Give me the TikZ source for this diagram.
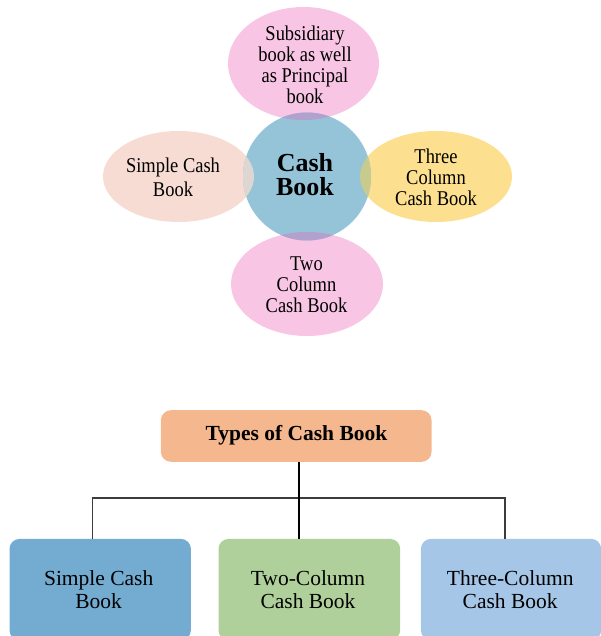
\documentclass[tikz,border=0pt]{standalone}
\usepackage{fontspec}
\setmainfont{Liberation Serif}
\newfontfamily\narrowserif[FakeStretch=0.88]{Liberation Serif}

\definecolor{petalpink}{HTML}{F8C6E4}
\definecolor{hubblue}{HTML}{95C4D8}
\definecolor{petalpeach}{HTML}{F7DCD4}
\definecolor{petalyellow}{HTML}{FDE08F}
\definecolor{mixpink}{HTML}{B2A0CD}
\definecolor{mixpeach}{HTML}{DED6D3}
\definecolor{mixyellow}{HTML}{C8CB8E}
\definecolor{headorange}{HTML}{F4B78E}
\definecolor{boxblue}{HTML}{74ACD1}
\definecolor{boxgreen}{HTML}{B0D09B}
\definecolor{boxsky}{HTML}{A6C6E7}
\definecolor{branchgray}{HTML}{3C3C3C}

\begin{document}
\begin{tikzpicture}[x=1pt,y=-1pt,
  petaltext/.style={inner sep=0pt, align=center,
    font=\narrowserif\fontsize{21}{21}\selectfont},
  hubtext/.style={inner sep=0pt, align=center,
    font=\bfseries\fontsize{26}{24}\selectfont},
  tbox/.style={rounded corners=10pt, inner sep=0pt, draw=none},
  boxtext/.style={inner sep=0pt, align=center,
    font=\fontsize{21.5}{23}\selectfont},
  trunk/.style={line width=2.4pt, black},
  branch/.style={line width=1.3pt, branchgray}
]
\useasboundingbox (0,0) rectangle (601,636);

% centres of the radial shapes
\coordinate (ptop) at (303.5,63.5);
\coordinate (pleft) at (178.5,176.5);
\coordinate (pright) at (436,176.5);
\coordinate (pbottom) at (307,284);
\coordinate (hub) at (307,176.5);

% petals
\fill[petalpink] (ptop) ellipse [x radius=75.5pt, y radius=56.5pt];
\fill[petalpeach] (pleft) ellipse [x radius=75.5pt, y radius=45.5pt];
\fill[petalyellow] (pright) ellipse [x radius=76pt, y radius=45.5pt];
\fill[petalpink] (pbottom) ellipse [x radius=76pt, y radius=52pt];

% central circle
\fill[hubblue] (hub) circle [radius=64pt];

% overlaps of the circle with each petal
\begin{scope}
  \clip (hub) circle [radius=64pt];
  \fill[mixpink] (ptop) ellipse [x radius=75.5pt, y radius=56.5pt];
  \fill[mixpeach] (pleft) ellipse [x radius=75.5pt, y radius=45.5pt];
  \fill[mixyellow] (pright) ellipse [x radius=76pt, y radius=45.5pt];
  \fill[mixpink] (pbottom) ellipse [x radius=76pt, y radius=52pt];
\end{scope}

% labels of the radial shapes
\node[petaltext] (ttop) at (305,65) {Subsidiary\\book as well\\as Principal\\book};
\node[petaltext, font=\narrowserif\fontsize{21}{24}\selectfont] (tleft) at (173,177.5) {Simple Cash\\Book};
\node[petaltext] (tright) at (436,177.3) {Three\\Column\\Cash Book};
\node[petaltext] (tbottom) at (306.5,284.5) {Two\\Column\\Cash Book};
\node[hubtext] (thub) at (305,174.8) {Cash\\Book};

% hierarchy boxes
\node[tbox, fill=headorange, minimum width=270.6pt, minimum height=51.6pt,
  anchor=north west] (types) at (160.7,410) {};
\node[inner sep=0pt, font=\bfseries\fontsize{21.5}{23}\selectfont, anchor=base]
  (typestext) at (296.5,440.7) {Types of Cash Book};

\node[tbox, fill=boxblue, minimum width=181.4pt, minimum height=101.3pt,
  anchor=north west] (simple) at (9.3,538.7) {};
\node[tbox, fill=boxgreen, minimum width=181.7pt, minimum height=101.3pt,
  anchor=north west] (twocol) at (218.3,538.7) {};
\node[tbox, fill=boxsky, minimum width=180.3pt, minimum height=101.3pt,
  anchor=north west] (threecol) at (420.7,538.7) {};

\node[boxtext] (simpletext) at (98.7,589.2) {Simple Cash\\Book};
\node[boxtext] (twotext) at (308,589.2) {Two-Column\\Cash Book};
\node[boxtext] (threetext) at (510.2,589.2) {Three-Column\\Cash Book};

% connectors
\coordinate (fork) at (299,498);
\draw[branch] ([xshift=-7.5pt]simple.north) |- (fork) -| ([xshift=-6.2pt]threecol.north);
\draw[trunk] ([xshift=3pt]types.south) -- ([xshift=3pt]types.south |- twocol.north);
\end{tikzpicture}
\end{document}
